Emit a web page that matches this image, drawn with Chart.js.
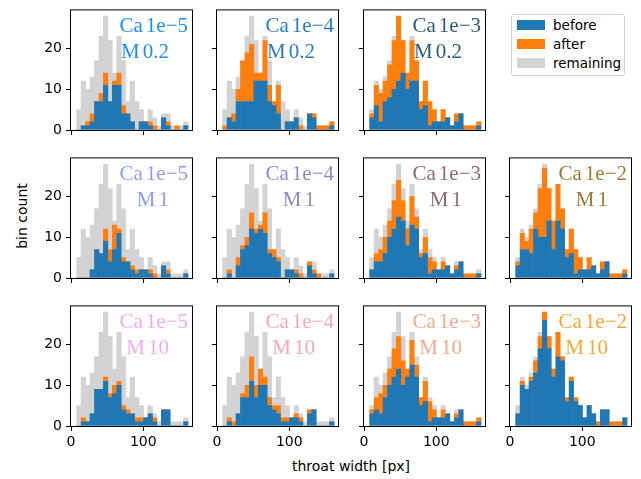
<!DOCTYPE html>
<html>
<head>
<meta charset="utf-8">
<script src="https://cdn.jsdelivr.net/npm/chart.js@4.4.1/dist/chart.umd.min.js"></script>
<style>
  body { margin: 0; background: #fff; width: 641px; height: 479px; position: relative; overflow: hidden; font-family: "DejaVu Sans", sans-serif; }
  canvas { position: absolute; }
  .axlabel { position: absolute; font-size: 14px; color: #000; white-space: nowrap; }
  #legend { position: absolute; left: 511px; top: 14px; width: 112px; height: 60px; border: 1px solid #d6d6d6; border-radius: 3px; background: #fff; }
  #legend .patch { position: absolute; left: 5px; width: 28px; height: 10px; }
  #legend .txt { position: absolute; left: 41px; font-size: 13.5px; line-height: 16px; color: #000; }
</style>
</head>
<body>
<div id="legend">
  <div class="patch" style="top:5px;background:#1f77b4"></div><div class="txt" style="top:2px">before</div>
  <div class="patch" style="top:24px;background:#ff7f0e"></div><div class="txt" style="top:21px">after</div>
  <div class="patch" style="top:43px;background:#d3d3d3"></div><div class="txt" style="top:40px">remaining</div>
</div>
<div class="axlabel" style="left:22px;top:216px;transform:translate(-50%,-50%) rotate(-90deg)">bin count</div>
<div class="axlabel" style="left:351px;top:466px;transform:translate(-50%,-50%)">throat width [px]</div>
<script>
// histogram bins (centres, px)
const binCenters = [10.89, 17.06, 23.23, 29.40, 35.57, 41.74, 47.91, 54.08, 60.25, 66.42, 72.59, 78.76, 84.93,
                    91.10, 97.27, 103.44, 109.61, 115.78, 121.95, 128.12, 134.29, 140.46, 146.63, 152.80, 158.97];
// full distribution, same in every panel
const totalCounts = [5, 12, 10, 13, 17, 23, 28, 22, 14, 23, 17, 7, 12, 7, 5, 2, 5, 3, 1, 4, 4, 1, 1, 1, 2];

const beforeA = [0, 1, 1, 2, 7, 7, 11, 7, 11, 11, 4, 4, 2, 0, 2, 2, 1, 0, 0, 3, 1, 0, 0, 0, 1];
const afterA  = [0, 0, 1, 2, 0, 2, 3, 0, 1, 3, 2, 0, 0, 0, 0, 0, 1, 1, 0, 0, 1, 0, 1, 0, 0];
const beforeB = [0, 3, 2, 7, 7, 7, 7, 12, 12, 12, 7, 6, 4, 0, 2, 2, 3, 0, 0, 4, 3, 0, 0, 0, 1];
const afterB  = [1, 0, 2, 3, 10, 12, 14, 2, 2, 10, 4, 1, 7, 0, 0, 0, 0, 1, 0, 0, 1, 1, 1, 1, 1];
const beforeC = [3, 6, 2, 7, 8, 10, 12, 14, 10, 12, 12, 5, 6, 1, 2, 2, 2, 3, 1, 2, 4, 0, 0, 0, 1];
const afterC  = [1, 5, 7, 5, 8, 12, 16, 8, 4, 10, 5, 2, 6, 6, 3, 0, 3, 0, 0, 2, 0, 1, 1, 1, 1];
const beforeD = [0, 0, 0, 2, 7, 6, 9, 4, 7, 11, 4, 4, 2, 1, 2, 2, 1, 0, 0, 3, 1, 0, 0, 0, 1];
const afterD  = [0, 0, 0, 0, 0, 0, 3, 3, 6, 1, 1, 0, 1, 1, 0, 0, 1, 1, 0, 0, 1, 0, 0, 0, 0];
const beforeE = [0, 1, 0, 3, 7, 8, 12, 11, 12, 11, 6, 5, 4, 0, 2, 2, 1, 0, 0, 3, 1, 0, 0, 0, 1];
const afterE  = [0, 1, 0, 2, 1, 2, 4, 1, 1, 5, 1, 2, 1, 0, 0, 0, 1, 1, 0, 1, 1, 1, 0, 0, 0];
const beforeF = [2, 4, 4, 6, 10, 12, 15, 14, 8, 13, 12, 5, 6, 1, 2, 2, 2, 3, 1, 2, 4, 0, 0, 0, 1];
const afterF  = [0, 2, 3, 4, 4, 7, 9, 5, 4, 7, 3, 1, 4, 4, 2, 0, 2, 0, 0, 1, 0, 1, 1, 1, 0];
const beforeG = [3, 7, 7, 6, 12, 10, 10, 14, 7, 14, 12, 5, 6, 1, 2, 2, 2, 3, 1, 2, 4, 0, 0, 0, 1];
const afterG  = [1, 4, 2, 6, 4, 12, 17, 8, 7, 9, 5, 2, 6, 6, 3, 0, 3, 0, 0, 2, 0, 1, 1, 1, 1];
const beforeH = [0, 1, 1, 3, 9, 9, 11, 7, 8, 10, 4, 3, 3, 1, 1, 2, 3, 1, 0, 4, 4, 0, 0, 0, 1];
const afterH  = [0, 1, 0, 0, 0, 0, 1, 1, 2, 1, 1, 1, 0, 1, 1, 0, 0, 1, 0, 0, 0, 0, 0, 0, 0];
const beforeI = [0, 1, 0, 3, 7, 7, 11, 7, 10, 10, 5, 4, 3, 1, 1, 2, 2, 1, 0, 3, 4, 0, 0, 0, 1];
const afterI  = [0, 1, 1, 0, 1, 3, 6, 3, 4, 2, 2, 1, 2, 1, 1, 0, 1, 1, 0, 1, 0, 0, 0, 0, 0];
const beforeJ = [3, 4, 3, 7, 10, 12, 14, 10, 12, 15, 12, 5, 6, 1, 2, 2, 2, 3, 1, 2, 4, 0, 0, 0, 1];
const afterJ  = [1, 3, 5, 3, 4, 7, 8, 6, 2, 6, 3, 2, 5, 5, 2, 0, 2, 0, 0, 1, 0, 1, 1, 1, 1];
const beforeK = [3, 10, 9, 11, 13, 19, 26, 19, 12, 17, 16, 6, 11, 6, 5, 2, 5, 3, 0, 4, 4, 0, 0, 0, 2];
const afterK  = [0, 1, 0, 1, 3, 3, 2, 3, 2, 6, 1, 1, 1, 1, 0, 0, 0, 0, 1, 0, 0, 1, 1, 1, 0];

const xTicks = [0, 100];
const yTicks = [0, 10, 20];

const panels = [
  { row: 0, col: 0, ca: '1e\u22125', m: '0.2', before: beforeA, after: afterA, color: '#1e8ff0' },
  { row: 0, col: 1, ca: '1e\u22124', m: '0.2', before: beforeB, after: afterB, color: '#2b7bba' },
  { row: 0, col: 2, ca: '1e\u22123', m: '0.2', before: beforeC, after: afterC, color: '#2d5b7c' },
  { row: 1, col: 0, ca: '1e\u22125', m: '1',   before: beforeD, after: afterD, color: '#8f9cf5' },
  { row: 1, col: 1, ca: '1e\u22124', m: '1',   before: beforeE, after: afterE, color: '#9784c6' },
  { row: 1, col: 2, ca: '1e\u22123', m: '1',   before: beforeF, after: afterF, color: '#8c6b6e' },
  { row: 1, col: 3, ca: '1e\u22122', m: '1',   before: beforeG, after: afterG, color: '#9c7c2e' },
  { row: 2, col: 0, ca: '1e\u22125', m: '10',  before: beforeH, after: afterH, color: '#eeaaf5' },
  { row: 2, col: 1, ca: '1e\u22124', m: '10',  before: beforeI, after: afterI, color: '#f2a7c0' },
  { row: 2, col: 2, ca: '1e\u22123', m: '10',  before: beforeJ, after: afterJ, color: '#f0ab8c' },
  { row: 2, col: 3, ca: '1e\u22122', m: '10',  before: beforeK, after: afterK, color: '#f2a930' }
];

const colLeft = [71, 217, 364, 510];
const rowTop = [6, 154, 302];
const axW = 121, axH = 124;
const padL = 45, padT = 8, padR = 8, padB = 28;

// two-part label: prefix + value, small gap like mathtext
function drawPair(ctx, a, b, right, y) {
  const wb = ctx.measureText(b).width;
  ctx.fillText(b, right, y);
  ctx.fillText(a, right - wb - 3, y);
}

// spines + panel annotation
const frame = {
  id: 'frame',
  afterDatasetsDraw(chart, args, opts) {
    const { ctx, chartArea: a } = chart;
    ctx.save();
    ctx.strokeStyle = '#000';
    ctx.lineWidth = 1;
    ctx.strokeRect(a.left - 0.5, a.top - 0.5, a.right - a.left + 1, a.bottom - a.top + 1);
    ctx.font = '21px "Liberation Serif"';
    ctx.fillStyle = opts.color;
    ctx.textAlign = 'right';
    ctx.textBaseline = 'alphabetic';
    drawPair(ctx, 'Ca', opts.ca, a.left + 117, a.top + 22);
    drawPair(ctx, 'M', opts.m, a.left + 98, a.top + 48);
    ctx.restore();
  }
};

panels.forEach(p => {
  const cv = document.createElement('canvas');
  cv.width = padL + axW + padR;
  cv.height = padT + axH + padB;
  cv.style.left = (colLeft[p.col] - padL) + 'px';
  cv.style.top = (rowTop[p.row] - padT) + 'px';
  document.body.appendChild(cv);

  const remaining = totalCounts.map((t, i) => t - p.before[i] - p.after[i]);
  const pts = arr => binCenters.map((x, i) => ({ x: x, y: arr[i] }));
  const showX = p.row === 2;
  const showY = p.col === 0;

  new Chart(cv, {
    type: 'bar',
    data: {
      datasets: [
        { label: 'before', data: pts(p.before), backgroundColor: '#1f77b4' },
        { label: 'after', data: pts(p.after), backgroundColor: '#ff7f0e' },
        { label: 'remaining', data: pts(remaining), backgroundColor: '#d3d3d3' }
      ]
    },
    options: {
      responsive: false,
      animation: false,
      devicePixelRatio: 1,
      barPercentage: 1,
      categoryPercentage: 1,
      layout: { padding: { left: 0, top: padT, right: padR, bottom: 0 } },
      plugins: {
        legend: { display: false },
        tooltip: { enabled: false },
        frame: { color: p.color, ca: p.ca, m: p.m }
      },
      scales: {
        x: {
          type: 'linear',
          stacked: true,
          offset: false,
          min: 0,
          max: 167.5,
          afterBuildTicks: s => { s.ticks = xTicks.map(v => ({ value: v })); },
          afterFit: s => { s.height = padB; },
          border: { display: false },
          grid: { offset: false, drawOnChartArea: false, color: '#000', lineWidth: 1, tickLength: 5 },
          ticks: {
            autoSkip: false, maxRotation: 0, padding: 3, color: '#000',
            font: { family: 'DejaVu Sans', size: 14 },
            callback: v => showX ? String(v) : ''
          }
        },
        y: {
          stacked: true,
          offset: false,
          min: 0,
          max: 29.4,
          afterBuildTicks: s => { s.ticks = yTicks.map(v => ({ value: v })); },
          afterFit: s => { s.width = padL; },
          border: { display: false },
          grid: { drawOnChartArea: false, color: '#000', lineWidth: 1, tickLength: 5 },
          ticks: {
            padding: 4, color: '#000',
            font: { family: 'DejaVu Sans', size: 14 },
            callback: v => showY ? String(v) : ''
          }
        }
      }
    },
    plugins: [frame]
  });
});
</script>
</body>
</html>
